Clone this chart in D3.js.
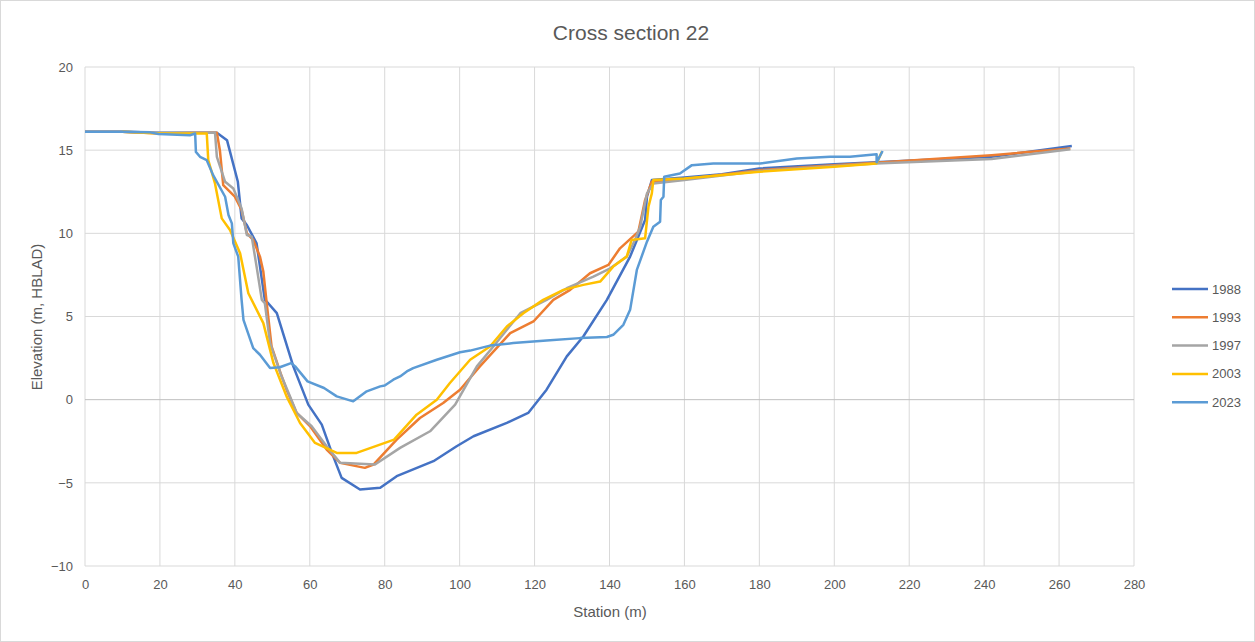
<!DOCTYPE html>
<html>
<head>
<meta charset="utf-8">
<script src="https://cdn.jsdelivr.net/npm/d3@7"></script>
<style>
  body { margin: 0; background: #fff; }
  svg { display: block; font-family: "Liberation Sans", Arial, sans-serif; }
</style>
</head>
<body>
<div id="chart"></div>
<script>
// station (m), elevation (m, HBLAD)
const s1988 = [[0,16.1],[10,16.1],[20,16.05],[30,16.05],[35.2,16.05],[37.9,15.6],[40.8,13.1],[41.8,10.9],[43.2,10.5],[45.8,9.4],[48.0,6.0],[48.9,5.8],[51.2,5.2],[55.6,2.0],[59.6,-0.3],[63.2,-1.5],[65.9,-3.2],[68.5,-4.7],[73.4,-5.4],[78.8,-5.3],[83.2,-4.6],[93,-3.7],[99.2,-2.8],[103.7,-2.2],[112.6,-1.4],[118.3,-0.8],[123.2,0.6],[128.6,2.6],[133,3.8],[139.3,6.0],[145.5,8.6],[149.5,10.8],[150,12.2],[151.3,13.2],[160,13.35],[170,13.55],[180,13.9],[200,14.15],[211,14.27],[242,14.6],[263.4,15.25]];
const s1993 = [[0,16.1],[10,16.1],[20,16.0],[30,16.05],[35.2,16.05],[36,15.0],[36.9,12.9],[40,12.2],[41.8,11.4],[43.2,10.0],[44.9,9.6],[46.7,8.6],[47.6,7.7],[48.5,5.8],[49.8,3.2],[52.2,1.6],[53.8,0.6],[56.5,-0.8],[60.1,-1.6],[64.5,-3.0],[68.1,-3.8],[74.7,-4.1],[77,-3.9],[83.2,-2.4],[89.4,-1.1],[95.6,-0.2],[100.1,0.6],[105.4,2.0],[113.5,4.0],[119.7,4.7],[125,6.0],[129.5,6.6],[134.8,7.6],[139.7,8.1],[142.8,9.1],[147.7,10.1],[149.5,12.0],[151.3,13.1],[160,13.25],[180,13.8],[200,14.1],[211,14.25],[242,14.7],[263,15.1]];
const s1997 = [[0,16.1],[10,16.1],[20,16.05],[30,16.05],[34.7,16.05],[35.2,14.6],[37.4,13.1],[39.6,12.7],[41.8,11.5],[43.2,9.9],[44.5,9.8],[45.8,8.0],[47.2,6.0],[48,5.8],[49.4,3.4],[52.3,1.5],[54.7,0.2],[56.5,-0.8],[60.5,-1.6],[64.5,-2.8],[68.1,-3.8],[77.4,-3.9],[84.1,-2.9],[92.1,-1.9],[98.8,-0.3],[104.6,2.0],[109,3.2],[112.6,4.2],[116.2,5.2],[123.2,6.0],[128.6,6.7],[135.7,7.4],[140.2,7.9],[144.6,8.6],[146.8,9.6],[148.2,10.4],[150,12.4],[151.7,13.0],[160,13.2],[180,13.75],[200,14.05],[211,14.2],[242,14.47],[263,15.05]];
const s2003 = [[10,16.1],[20,16.0],[30,16.0],[32.5,16.0],[32.9,14.4],[34.7,13.0],[36.5,10.9],[38.7,10.2],[41.4,8.8],[43.6,6.4],[47.6,4.6],[50.3,2.2],[53.8,0.2],[57.4,-1.4],[61.4,-2.6],[67.2,-3.2],[72.5,-3.2],[82.5,-2.4],[88.5,-0.9],[93.9,0],[97.4,1.0],[102.8,2.4],[108.1,3.2],[112.6,4.4],[117,5.2],[122.3,6.0],[127.7,6.6],[133,6.9],[137.5,7.1],[141,8.0],[144.6,8.6],[145.9,9.6],[149.5,9.7],[150.4,11.6],[151.3,12.4],[151.7,13.2],[160,13.3],[180,13.7],[200,14.0],[211.3,14.2],[212.7,14.9]];
const s2023 = [[0,16.1],[10,16.1],[17.4,16.07],[19.6,15.97],[28,15.9],[29.4,16.0],[29.6,14.9],[30.7,14.6],[32.5,14.4],[34.2,13.5],[37.4,12.2],[38.3,11.1],[39.2,10.6],[39.6,9.4],[40.9,8.6],[41.8,6.0],[42.3,4.8],[44.9,3.1],[46.7,2.7],[49.4,1.9],[52,1.95],[55,2.2],[56.1,2.0],[59.4,1.1],[63.8,0.7],[67.2,0.2],[71.6,-0.1],[75.2,0.5],[78.8,0.8],[80,0.85],[82.3,1.2],[84.1,1.4],[85.9,1.7],[87.6,1.9],[93.9,2.4],[100.1,2.85],[102.8,2.95],[108.1,3.25],[114.3,3.4],[123.2,3.55],[132.1,3.7],[139.3,3.77],[141,3.9],[143.7,4.5],[145.5,5.4],[147.3,7.8],[150,9.5],[151.7,10.4],[153.5,10.7],[153.7,12.0],[154.4,12.2],[154.6,13.4],[158.8,13.6],[162,14.1],[167.7,14.2],[180.2,14.2],[190,14.5],[198.9,14.6],[204.2,14.6],[211.3,14.75],[211.3,14.27],[212.9,14.95]];

const seriesNames = ['1988', '1993', '1997', '2003', '2023'];
const seriesData = [s1988, s1993, s1997, s2003, s2023];
const colors = ['#4472C4', '#ED7D31', '#A5A5A5', '#FFC000', '#5B9BD5'];
const xTicks = d3.range(0, 281, 20);
const yTicks = [-10, -5, 0, 5, 10, 15, 20];

const width = 1255, height = 642;
const margin = {top: 67, right: 121, bottom: 76, left: 85};

const svg = d3.select('#chart').append('svg')
    .attr('width', width)
    .attr('height', height);

svg.append('rect')
    .attr('x', 0.5).attr('y', 0.5)
    .attr('width', width - 1).attr('height', height - 1)
    .attr('fill', '#fff')
    .attr('stroke', '#d9d9d9');

const x = d3.scaleLinear().domain([0, 280]).range([margin.left, width - margin.right]);
const y = d3.scaleLinear().domain([-10, 20]).range([height - margin.bottom, margin.top]);

// grid
svg.append('g')
    .selectAll('line.v')
    .data(xTicks)
    .join('line')
    .attr('x1', d => x(d)).attr('x2', d => x(d))
    .attr('y1', y(20)).attr('y2', y(-10))
    .attr('stroke', '#d9d9d9').attr('stroke-width', 1);
svg.append('g')
    .selectAll('line.h')
    .data(yTicks)
    .join('line')
    .attr('x1', x(0)).attr('x2', x(280))
    .attr('y1', d => y(d)).attr('y2', d => y(d))
    .attr('stroke', d => d === 0 ? '#bfbfbf' : '#d9d9d9').attr('stroke-width', 1);

// axes (labels only)
const xAxis = svg.append('g')
    .attr('transform', `translate(0,${y(-10)})`)
    .call(d3.axisBottom(x).tickValues(xTicks).tickSize(0).tickPadding(14));
const yAxis = svg.append('g')
    .attr('transform', `translate(${x(0)},0)`)
    .call(d3.axisLeft(y).tickValues(yTicks).tickSize(0).tickPadding(12));
[xAxis, yAxis].forEach(a => {
    a.select('.domain').remove();
    a.selectAll('text').attr('fill', '#595959').style('font-size', '13px');
});

// lines
const line = d3.line().x(d => x(d[0])).y(d => y(d[1]));
svg.append('g')
    .selectAll('path')
    .data(seriesData)
    .join('path')
    .attr('d', line)
    .attr('fill', 'none')
    .attr('stroke', (d, i) => colors[i])
    .attr('stroke-width', 2.5)
    .attr('stroke-linejoin', 'round');

// title
svg.append('text')
    .attr('x', 631).attr('y', 40)
    .attr('text-anchor', 'middle')
    .attr('fill', '#595959')
    .style('font-size', '21px')
    .text('Cross section 22');

svg.append('text')
    .attr('x', 610).attr('y', 617)
    .attr('text-anchor', 'middle')
    .attr('fill', '#595959')
    .style('font-size', '15px')
    .text('Station (m)');

svg.append('text')
    .attr('transform', `translate(42,317) rotate(-90)`)
    .attr('text-anchor', 'middle')
    .attr('fill', '#595959')
    .style('font-size', '15px')
    .text('Elevation (m, HBLAD)');

// legend
const legend = svg.append('g')
    .selectAll('g')
    .data(seriesNames)
    .join('g')
    .attr('transform', (d, i) => `translate(1172,${289 + i * 28.3})`);
legend.append('line')
    .attr('x1', 0).attr('x2', 36)
    .attr('stroke', (d, i) => colors[i])
    .attr('stroke-width', 2.5);
legend.append('text')
    .attr('x', 40).attr('dy', '0.35em')
    .attr('fill', '#595959')
    .style('font-size', '13px')
    .text(d => d);
</script>
</body>
</html>
